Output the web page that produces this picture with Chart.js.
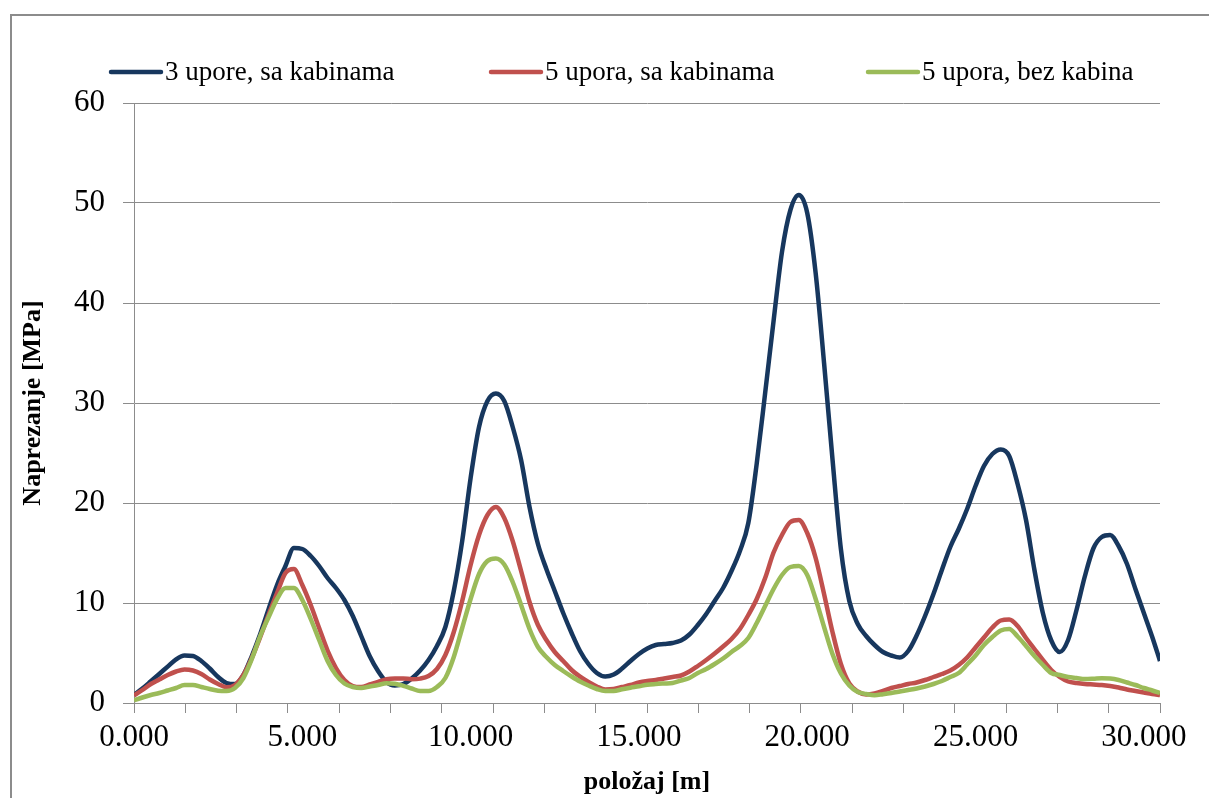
<!DOCTYPE html>
<html>
<head>
<meta charset="utf-8">
<script src="https://cdn.jsdelivr.net/npm/chart.js@4.4.1/dist/chart.umd.min.js"></script>
<style>
  html, body { margin: 0; padding: 0; background: #fff; overflow: hidden; }
  #frame { position: absolute; left: 10px; top: 14px; width: 1400px; height: 1000px; border: 2px solid #8c8c8c; }
  #wrap { position: absolute; left: 0; top: 0; width: 1209px; height: 798px; }
</style>
</head>
<body>
<div id="frame"></div>
<div id="wrap"><canvas id="chart" width="1209" height="798"></canvas></div>
<script>
// position along the beam [m]
const positions = [0,0.25,0.5,0.75,1,1.25,1.5,1.75,2,2.25,2.5,2.75,3,3.25,3.5,3.75,4,4.25,4.5,4.75,
  5,5.25,5.5,5.75,6,6.25,6.5,6.75,7,7.25,7.5,7.75,8,8.25,8.5,8.75,9,9.25,9.5,9.75,
  10,10.25,10.5,10.75,11,11.25,11.5,11.75,12,12.25,12.5,12.75,13,13.25,13.5,13.75,14,14.25,14.5,14.75,
  15,15.25,15.5,15.75,16,16.25,16.5,16.75,17,17.25,17.5,17.75,18,18.25,18.5,18.75,19,19.25,19.5,19.75,
  20,20.25,20.5,20.75,21,21.25,21.5,21.75,22,22.25,22.5,22.75,23,23.25,23.5,23.75,24,24.25,24.5,24.75,
  25,25.25,25.5,25.75,26,26.25,26.5,26.75,27,27.25,27.5,27.75,28,28.25,28.5,28.75,29,29.25,29.5,29.75,
  30,30.25,30.48];

// 3 upore, sa kabinama [MPa]
const tri_sa = [0.8,1.45,2.17,2.9, 3.64,4.37,4.75,4.7, 4.2,3.45,2.6,2.0, 1.9,2.8,4.7,6.9, 9.4,11.8,13.7,15.5,
  15.4,14.7,13.7,12.5, 11.5,10.3,8.7,6.7, 4.7,3.2,2.1,1.75, 1.9,2.45,3.25,4.3, 5.7,7.6,11.2,16.2,
  22.5,27.6,30.2,30.95, 30.2,27.6,24.3,19.6, 15.9,13.4,11.2,9.0, 7.0,5.2,3.9,3.0, 2.65,2.85,3.45,4.2,
  4.9,5.45,5.8,5.9, 6.0,6.25,6.85,7.8, 8.9,10.2,11.5,13.2, 15.2,18.0,23.95,31.0, 38.2,45.1,49.3,50.8,
  49.0,43.0,34.0,24.4, 15.4,10.2,7.9,6.7, 5.8,5.1,4.75,4.55, 5.2,6.75,8.7,10.9, 13.3,15.6,17.4,19.4,
  21.7,23.7,24.9,25.35, 24.7,21.9,18.3,13.3, 9.0,6.25,5.1,6.3, 9.3,12.7,15.45,16.6, 16.8,15.7,13.9,11.4,
  9.0,6.6,4.2];

// 5 upora, sa kabinama [MPa]
const pet_sa = [0.75,1.3,1.9,2.35, 2.8,3.15,3.35,3.25, 2.9,2.35,1.9,1.57, 1.8,2.8,4.5,6.6, 8.85,11.0,13.0,13.4,
  11.8,9.8,7.5,5.25, 3.5,2.3,1.7,1.6, 1.85,2.1,2.37,2.45, 2.45,2.38,2.44,2.7, 3.4,4.8,7.1,10.2,
  13.8,16.8,18.8,19.6, 18.5,16.2,13.2,10.1, 7.8,6.3,5.1,4.2, 3.3,2.63,2.1,1.65, 1.35,1.4,1.6,1.8,
  2.05,2.2,2.3,2.45, 2.6,2.75,3.15,3.7, 4.3,4.95,5.65,6.4, 7.4,8.8,10.4,12.5, 15.05,16.8,18.1,18.3,
  17.0,14.5,10.9,7.1, 3.9,1.95,1.15,0.85, 0.95,1.2,1.5,1.7, 1.9,2.05,2.3,2.6, 2.9,3.25,3.8,4.55,
  5.55,6.55,7.55,8.25, 8.35,7.7,6.5,5.4, 4.3,3.3,2.6,2.15, 2.0,1.9,1.85,1.8, 1.7,1.55,1.35,1.2,
  1.05,0.9,0.8];

// 5 upora, bez kabina [MPa]
const pet_bez = [0.25,0.55,0.8,1.0, 1.25,1.5,1.8,1.8, 1.6,1.4,1.23,1.2, 1.5,2.5,4.4,6.7, 8.6,10.4,11.5,11.5,
  10.3,8.4,6.3,4.2, 2.8,1.95,1.6,1.5, 1.65,1.8,1.97,1.92, 1.72,1.45,1.2,1.2, 1.6,2.5,4.6,7.5,
  10.4,12.9,14.2,14.45, 13.85,12.1,9.8,7.4, 5.6,4.6,3.8,3.2, 2.65,2.15,1.75,1.4, 1.2,1.2,1.38,1.53,
  1.67,1.83,1.9,1.95, 2.0,2.25,2.5,3.0, 3.4,3.9,4.45,5.1, 5.7,6.5,8.0,9.7, 11.4,12.8,13.6,13.7,
  12.8,10.4,7.6,4.9, 2.95,1.75,1.1,0.9, 0.78,0.88,1.0,1.15, 1.3,1.45,1.65,1.9, 2.2,2.6,3.0,3.85,
  4.75,5.8,6.6,7.25, 7.4,6.65,5.7,4.7, 3.8,3.0,2.8,2.6, 2.5,2.4,2.43,2.48, 2.45,2.3,2.05,1.8,
  1.5,1.25,1.0];

const seriesNames = ['3 upore, sa kabinama', '5 upora, sa kabinama', '5 upora, bez kabina'];
const xLabelValues = [0, 5, 10, 15, 20, 25, 30];
const xTickMarks = [0,1.524,3.048,4.572,6.096,7.62,9.144,10.668,12.192,13.716,15.24,
  16.764,18.288,19.812,21.336,22.86,24.384,25.908,27.432,28.956,30.48];

const GRID = '#8c8c8c';
const SERIF = '"Liberation Serif", "Times New Roman", serif';
Chart.defaults.font.family = SERIF;
Chart.defaults.color = '#000';

function pts(vals) {
  return positions.map((x, i) => ({ x: x, y: vals[i] }));
}

// legend drawn by hand: Excel-style spacing, line sample + text
const legendLines = {
  id: 'legendLines',
  afterDraw(chart) {
    const ctx = chart.ctx;
    const starts = [109, 489, 866];
    ctx.save();
    chart.data.datasets.forEach((ds, i) => {
      const x = starts[i], y = 72;
      ctx.strokeStyle = ds.borderColor;
      ctx.lineWidth = 4.5;
      ctx.lineCap = 'round';
      ctx.beginPath();
      ctx.moveTo(x + 2, y);
      ctx.lineTo(x + 52, y);
      ctx.stroke();
      ctx.fillStyle = '#000';
      ctx.font = 'normal 27px ' + SERIF;
      ctx.textBaseline = 'middle';
      ctx.fillText(ds.label, x + 56, y + 1);
    });
    ctx.restore();
  }
};

const data = {
  datasets: [
    { label: seriesNames[0], data: pts(tri_sa), borderColor: '#17375E', order: 3 },
    { label: seriesNames[1], data: pts(pet_sa), borderColor: '#C0504D', order: 2 },
    { label: seriesNames[2], data: pts(pet_bez), borderColor: '#9BBB59', order: 1 }
  ]
};
data.datasets.forEach(ds => {
  ds.borderWidth = 4.5;
  ds.pointRadius = 0;
  ds.cubicInterpolationMode = 'monotone';
  ds.fill = false;
});

const config = {
  type: 'line',
  data: data,
  plugins: [legendLines],
  options: {
    responsive: false,
    animation: false,
    events: [],
    layout: { padding: { top: 103, right: 49, bottom: 0, left: 0 } },
    plugins: { legend: { display: false }, tooltip: { enabled: false } },
    scales: {
      x: {
        type: 'linear',
        min: 0,
        max: 30.48,
        afterBuildTicks(scale) {
          const vals = xTickMarks.concat(xLabelValues.filter(v => !xTickMarks.includes(v)));
          vals.sort((a, b) => a - b);
          scale.ticks = vals.map(v => ({ value: v }));
        },
        afterFit(scale) { scale.height = 95; },
        grid: {
          drawOnChartArea: false,
          drawTicks: true,
          tickLength: 10,
          tickColor: c => (c.tick && xTickMarks.includes(c.tick.value)) ? GRID : 'rgba(0,0,0,0)'
        },
        border: { color: GRID, width: 1 },
        ticks: {
          autoSkip: false,
          maxRotation: 0,
          padding: 6,
          color: '#000',
          font: { size: 31 },
          callback: v => xLabelValues.includes(v) ? v.toFixed(3) : ''
        },
        title: {
          display: true,
          text: 'položaj [m]',
          color: '#000',
          font: { size: 26, weight: 'bold' },
          padding: { top: 0, bottom: 0 }
        }
      },
      y: {
        min: 0,
        max: 60,
        afterFit(scale) { scale.width = 134; },
        grid: { color: GRID, lineWidth: 1, tickLength: 11 },
        border: { color: GRID, width: 1 },
        ticks: { stepSize: 10, padding: 18, color: '#000', font: { size: 31 } },
        title: {
          display: true,
          text: 'Naprezanje [MPa]',
          color: '#000',
          font: { size: 26, weight: 'bold' },
          padding: { top: 18, bottom: 0 }
        }
      }
    }
  }
};

window.chart = new Chart(document.getElementById('chart'), config);
</script>
</body>
</html>
